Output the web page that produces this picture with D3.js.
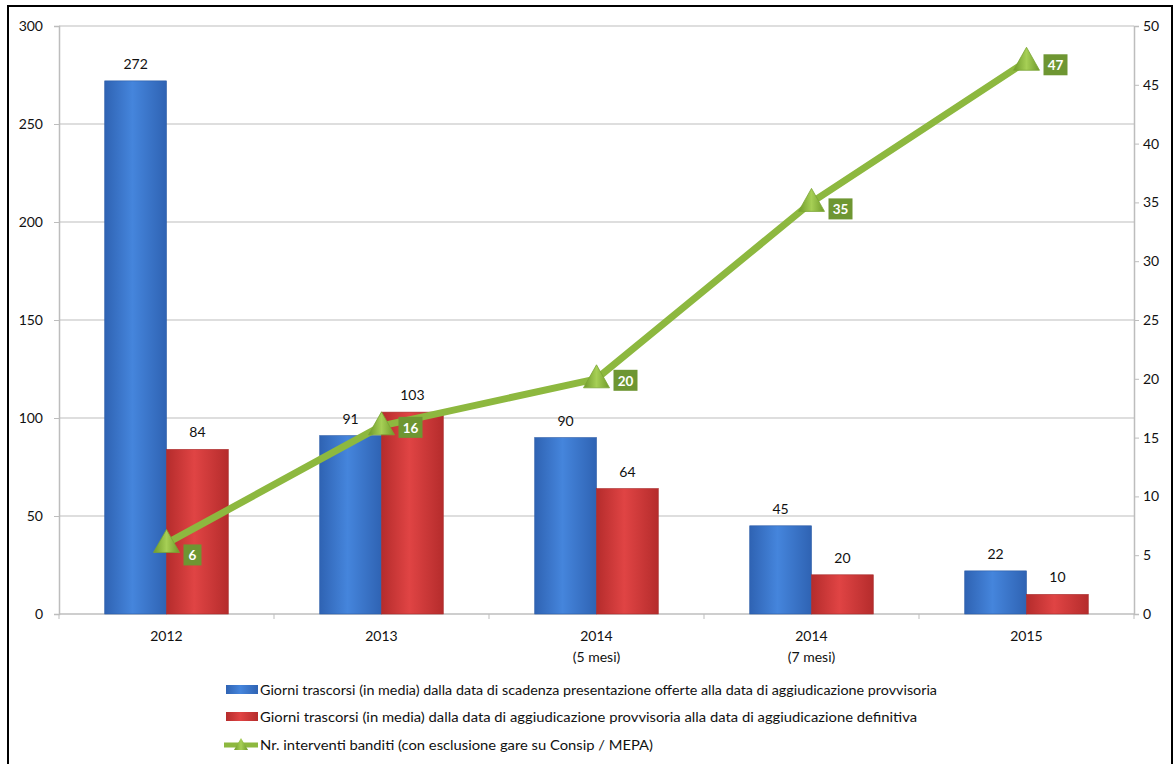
<!DOCTYPE html>
<html><head><meta charset="utf-8">
<script src="https://cdn.jsdelivr.net/npm/d3@7"></script>
<style>body{margin:0;background:#fff}svg{display:block}text{font-family:Lato,"Open Sans",sans-serif}</style>
</head><body><svg id="c" width="1175" height="764"></svg>
<script>
const categories = ["2012","2013","2014|(5 mesi)","2014|(7 mesi)","2015"];
const giorniScadenza = [272,91,90,45,22];
const giorniDefinitiva = [84,103,64,20,10];
const interventi = [6,16,20,35,47];
const leftTicks = [0,50,100,150,200,250,300];
const rightTicks = [0,5,10,15,20,25,30,35,40,45,50];
const legendLabels = [
 "Giorni trascorsi (in media) dalla data di scadenza presentazione offerte alla data di aggiudicazione provvisoria",
 "Giorni trascorsi (in media) dalla data di aggiudicazione provvisoria alla data di aggiudicazione definitiva",
 "Nr. interventi banditi (con esclusione gare su Consip / MEPA)"];

const svg = d3.select("#c");
const defs = svg.append("defs");
function hgrad(id, edge, mid){
  const g = defs.append("linearGradient").attr("id",id).attr("x1","0").attr("x2","1").attr("y1","0").attr("y2","0");
  g.append("stop").attr("offset","0%").attr("stop-color",edge);
  g.append("stop").attr("offset","45%").attr("stop-color",mid);
  g.append("stop").attr("offset","100%").attr("stop-color",edge);
}
hgrad("gBlue","#2f63b3","#4585dc");
hgrad("gRed","#b52c2c","#e04444");
const tg = defs.append("linearGradient").attr("id","gTri").attr("x1","0").attr("x2","1");
tg.append("stop").attr("offset","0%").attr("stop-color","#6f9a2a");
tg.append("stop").attr("offset","50%").attr("stop-color","#a6cf55");
tg.append("stop").attr("offset","100%").attr("stop-color","#6f9a2a");

// frame
svg.append("rect").attr("x",8).attr("y",6).attr("width",1164).attr("height",770).attr("fill","none").attr("stroke","#000").attr("stroke-width",2);

const L=59, R=1134, T=26, B=614;
const x0 = d3.scaleBand().domain(categories).range([L,R]).padding(0);
const x1 = d3.scaleBand().domain(["a","b"]).range([0,x0.bandwidth()]).paddingInner(0).paddingOuter(0.74);
const yL = d3.scaleLinear().domain([0,300]).range([B,T]);
const yR = d3.scaleLinear().domain([0,50]).range([B,T]);

// grid
svg.append("g").selectAll("line").data(leftTicks).join("line")
  .attr("x1",L).attr("x2",R).attr("y1",d=>yL(d)).attr("y2",d=>yL(d))
  .attr("stroke","#bdbdbd").attr("stroke-width",1.2);

// axes
const gl = svg.append("g").attr("transform",`translate(${L},0)`).call(d3.axisLeft(yL).tickValues(leftTicks).tickSize(5).tickPadding(6));
const gr = svg.append("g").attr("transform",`translate(${R},0)`).call(d3.axisRight(yR).tickValues(rightTicks).tickSize(5).tickPadding(6));
[gl,gr].forEach(g=>{
  g.select(".domain").attr("stroke","#bdbdbd").attr("stroke-width",1.5);
  g.selectAll(".tick line").attr("stroke","#bdbdbd");
  g.selectAll(".tick text").attr("fill","#111").style("font-size","14px").style("font-family","Lato,sans-serif");
});
gr.selectAll(".tick text").attr("x",9);
gl.selectAll(".tick text").attr("x",-16);

// x axis
svg.append("line").attr("x1",L).attr("x2",R).attr("y1",B).attr("y2",B).attr("stroke","#bdbdbd").attr("stroke-width",1.2);
const bounds = categories.map(c=>x0(c)).concat([R]);
svg.append("g").selectAll("line").data(bounds).join("line")
  .attr("x1",d=>d).attr("x2",d=>d).attr("y1",B).attr("y2",B+5).attr("stroke","#bdbdbd");
const xl = svg.append("g").selectAll("text").data(categories).join("text")
  .attr("x",d=>x0(d)+x0.bandwidth()/2).attr("y",641).attr("text-anchor","middle")
  .attr("fill","#111").style("font-size","14px");
xl.each(function(d){
  const parts=d.split("|"); const t=d3.select(this);
  parts.forEach((p,i)=>t.append("tspan").attr("x",x0(d)+x0.bandwidth()/2).attr("dy",i?21:0).text(p));
});

// bars
const series=[{k:"a",v:giorniScadenza,f:"url(#gBlue)",s:"#2a5aa6"},{k:"b",v:giorniDefinitiva,f:"url(#gRed)",s:"#a82a2a"}];
series.forEach(s=>{
  const g = svg.append("g");
  g.selectAll("rect").data(categories).join("rect")
    .attr("x",(c)=>x0(c)+x1(s.k)).attr("width",x1.bandwidth())
    .attr("y",(c,i)=>yL(s.v[i])).attr("height",(c,i)=>B-yL(s.v[i]))
    .attr("fill",s.f).attr("stroke",s.s).attr("stroke-width",0.6);
  g.selectAll("text").data(categories).join("text")
    .attr("x",(c)=>x0(c)+x1(s.k)+x1.bandwidth()/2).attr("y",(c,i)=>yL(s.v[i])-12)
    .attr("text-anchor","middle").attr("fill","#111").style("font-size","14px")
    .text((c,i)=>s.v[i]);
});

// line
const cx = c=>x0(c)+x0.bandwidth()/2;
const line = d3.line().x((d,i)=>cx(categories[i])).y(d=>yR(d));
svg.append("path").datum(interventi).attr("d",line).attr("fill","none").attr("stroke","#8db83f").attr("stroke-width",7).attr("stroke-linejoin","round");
const tri = "M0,-14 L13,9 L-13,9 Z";
svg.append("g").selectAll("path").data(interventi).join("path")
  .attr("transform",(d,i)=>`translate(${cx(categories[i])},${yR(d)})`)
  .attr("d",tri).attr("fill","url(#gTri)").attr("stroke","#7aa534").attr("stroke-width",0.8);
const labDy = [12,2,2,7,4];
const lab = svg.append("g").selectAll("g").data(interventi).join("g")
  .attr("transform",(d,i)=>`translate(${cx(categories[i])+17},${yR(d)+labDy[i]})`);
lab.append("rect").attr("x",0).attr("y",-11).attr("width",d=>d>9?24:18).attr("height",21).attr("fill","#6e9632");
lab.append("text").attr("x",d=>d>9?12:9).attr("y",5).attr("text-anchor","middle").attr("fill","#fff")
  .style("font-size","13.5px").style("font-weight","bold").text(d=>d);

// legend
const ly=[690,717,745];
const lg = svg.append("g");
lg.append("rect").attr("x",226).attr("y",ly[0]-5).attr("width",32).attr("height",9).attr("fill","url(#gBlue)");
lg.append("rect").attr("x",226).attr("y",ly[1]-5).attr("width",32).attr("height",9).attr("fill","url(#gRed)");
lg.append("line").attr("x1",224).attr("x2",258).attr("y1",ly[2]).attr("y2",ly[2]).attr("stroke","#8db83f").attr("stroke-width",5);
lg.append("path").attr("transform",`translate(241,${ly[2]})`).attr("d","M0,-7 L7,5 L-7,5 Z").attr("fill","url(#gTri)");
lg.selectAll("text").data(legendLabels).join("text")
  .attr("x",260).attr("y",(d,i)=>ly[i]+5).attr("fill","#111").style("font-size","13.5px")
  .attr("textLength",(d,i)=>[677,657,393][i]).attr("lengthAdjust","spacingAndGlyphs")
  .text(d=>d);
</script></body></html>
